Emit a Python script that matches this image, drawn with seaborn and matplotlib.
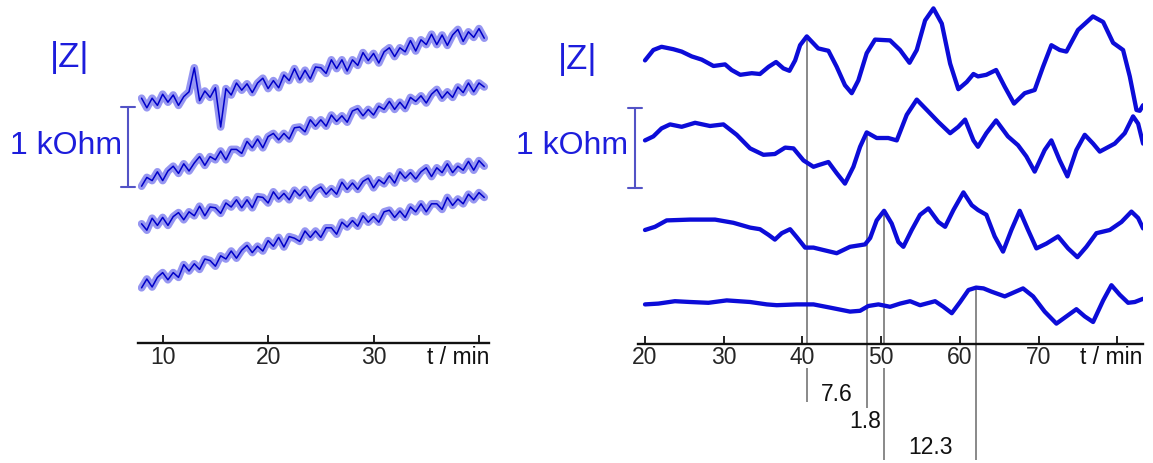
import numpy as np
import matplotlib
matplotlib.use('Agg')
import matplotlib.pyplot as plt
import seaborn as sns

sns.set_style('white')
plt.rcParams['font.family'] = ['Liberation Sans', 'DejaVu Sans']

# ---- left panel: raw |Z| traces (kOhm, stacked), sampled every 0.5 min ----
t_raw = np.arange(8.0, 40.51, 0.5)
raw_1 = [3.06, 2.94, 3.06, 2.97, 3.11, 3.01, 3.10, 2.97, 3.08, 3.14, 3.44,
         3.03, 3.15, 3.07, 3.19, 2.70, 3.18, 3.10, 3.25, 3.16, 3.24, 3.13,
         3.25, 3.31, 3.18, 3.28, 3.19, 3.35, 3.28, 3.43, 3.29, 3.41, 3.30,
         3.45, 3.44, 3.37, 3.54, 3.43, 3.54, 3.40, 3.54, 3.47, 3.63, 3.53,
         3.62, 3.50, 3.64, 3.69, 3.58, 3.69, 3.64, 3.78, 3.65, 3.79, 3.73,
         3.86, 3.73, 3.85, 3.72, 3.85, 3.92, 3.77, 3.89, 3.82, 3.93, 3.81]
raw_2 = [1.96, 2.07, 2.03, 2.14, 2.03, 2.15, 2.21, 2.12, 2.24, 2.15, 2.25,
         2.33, 2.22, 2.33, 2.29, 2.40, 2.29, 2.42, 2.42, 2.37, 2.52, 2.44,
         2.55, 2.44, 2.58, 2.62, 2.54, 2.62, 2.55, 2.69, 2.70, 2.64, 2.79,
         2.71, 2.79, 2.71, 2.85, 2.77, 2.84, 2.76, 2.90, 2.93, 2.84, 2.92,
         2.85, 2.96, 2.92, 3.02, 2.92, 3.01, 2.93, 3.07, 3.02, 3.09, 3.00,
         3.11, 3.17, 3.06, 3.14, 3.07, 3.20, 3.13, 3.25, 3.14, 3.25, 3.20]
raw_3 = [1.49, 1.41, 1.56, 1.47, 1.57, 1.47, 1.58, 1.63, 1.54, 1.64, 1.59,
         1.71, 1.59, 1.70, 1.69, 1.62, 1.75, 1.70, 1.79, 1.69, 1.79, 1.69,
         1.83, 1.82, 1.75, 1.89, 1.80, 1.87, 1.79, 1.91, 1.84, 1.92, 1.81,
         1.91, 1.95, 1.86, 1.93, 1.86, 2.01, 1.92, 2.00, 1.92, 2.02, 2.06,
         1.94, 2.04, 1.99, 2.09, 2.00, 2.14, 2.06, 2.13, 2.05, 2.14, 2.19,
         2.08, 2.19, 2.13, 2.24, 2.13, 2.21, 2.16, 2.27, 2.16, 2.28, 2.21]
raw_4 = [0.69, 0.80, 0.70, 0.82, 0.88, 0.79, 0.88, 0.82, 0.98, 0.90, 0.99,
         0.92, 1.05, 1.03, 0.96, 1.09, 1.05, 1.15, 1.06, 1.16, 1.22, 1.13,
         1.21, 1.15, 1.28, 1.21, 1.32, 1.20, 1.33, 1.31, 1.27, 1.40, 1.32,
         1.40, 1.32, 1.44, 1.44, 1.36, 1.51, 1.45, 1.53, 1.46, 1.59, 1.51,
         1.58, 1.51, 1.64, 1.66, 1.57, 1.65, 1.57, 1.70, 1.64, 1.74, 1.64,
         1.74, 1.74, 1.67, 1.82, 1.72, 1.80, 1.74, 1.86, 1.79, 1.88, 1.82]
raw_traces = [raw_1, raw_2, raw_3, raw_4]

# ---- right panel: smoothed |Z| traces (kOhm, stacked) ----
t_a = [20.0, 21.06, 22.1, 23.6, 24.66, 25.93, 27.2, 28.7, 30.17, 31.0, 32.1,
       33.56, 34.6, 35.7, 36.65, 37.58, 38.35, 39.07, 39.7, 40.55, 42.0, 43.3,
       44.35, 45.4, 46.26, 47.1, 48.16, 49.22, 51.13, 52.4, 53.6, 54.52, 55.58,
       56.64, 57.7, 58.76, 59.8, 60.87, 61.72, 62.3, 63.36, 64.6, 65.7, 66.88,
       68.23, 69.5, 70.56, 71.62, 72.68, 73.53, 75.0, 76.9, 78.2, 79.46, 80.73,
       81.58, 82.43, 82.85, 83.27]
z_a = [3.62, 3.75, 3.79, 3.76, 3.73, 3.67, 3.63, 3.55, 3.57, 3.50, 3.44,
       3.46, 3.45, 3.54, 3.60, 3.52, 3.49, 3.62, 3.81, 3.92, 3.77, 3.74,
       3.54, 3.31, 3.21, 3.37, 3.71, 3.88, 3.87, 3.75, 3.59, 3.75, 4.12,
       4.27, 4.08, 3.58, 3.26, 3.35, 3.45, 3.42, 3.44, 3.50, 3.29, 3.08,
       3.21, 3.25, 3.54, 3.81, 3.75, 3.73, 4.00, 4.17, 4.10, 3.84, 3.75,
       3.42, 3.00, 2.99, 3.06]
t_b = [20.0, 21.06, 22.1, 23.18, 24.66, 26.36, 28.26, 29.96, 31.65, 33.35,
       35.04, 36.5, 37.8, 38.86, 40.13, 41.4, 42.0, 43.3, 44.35, 45.4, 46.47,
       47.32, 48.16, 49.43, 50.9, 51.98, 53.25, 54.52, 56.0, 57.27, 58.76,
       59.8, 60.66, 61.72, 62.3, 63.36, 64.6, 66.1, 67.38, 68.44, 69.5, 70.77,
       71.62, 72.68, 73.66, 74.8, 75.86, 76.92, 77.77, 79.67, 80.94, 82.0,
       82.64, 83.27]
z_b = [2.62, 2.67, 2.77, 2.82, 2.79, 2.84, 2.80, 2.82, 2.69, 2.52,
       2.44, 2.45, 2.53, 2.52, 2.37, 2.29, 2.31, 2.35, 2.21, 2.08, 2.29,
       2.54, 2.72, 2.65, 2.65, 2.62, 2.94, 3.13, 2.98, 2.85, 2.71,
       2.79, 2.88, 2.62, 2.54, 2.71, 2.87, 2.67, 2.56, 2.42, 2.23, 2.50,
       2.62, 2.37, 2.17, 2.50, 2.69, 2.58, 2.48, 2.58, 2.71, 2.92,
       2.83, 2.58]
t_c = [20.0, 21.27, 22.75, 25.72, 28.9, 31.23, 33.35, 34.6, 35.68, 36.5,
       37.37, 38.43, 39.28, 40.34, 41.4, 42.65, 44.35, 46.04, 47.95, 48.6,
       49.43, 50.37, 51.34, 52.19, 52.82, 53.88, 54.94, 56.0, 57.27, 58.12,
       59.18, 60.45, 61.51, 62.3, 63.36, 64.42, 65.48, 66.54, 67.6, 68.66,
       69.72, 70.99, 72.47, 73.74, 74.93, 76.07, 77.34, 79.04, 80.52, 81.79,
       82.64, 83.27]
z_c = [1.50, 1.54, 1.62, 1.63, 1.63, 1.59, 1.53, 1.51, 1.44, 1.38,
       1.46, 1.51, 1.41, 1.28, 1.28, 1.25, 1.21, 1.29, 1.32, 1.40,
       1.62, 1.74, 1.58, 1.35, 1.29, 1.50, 1.69, 1.77, 1.60, 1.54,
       1.75, 1.97, 1.81, 1.75, 1.69, 1.42, 1.23, 1.50, 1.74, 1.50,
       1.27, 1.33, 1.42, 1.27, 1.16, 1.29, 1.46, 1.50, 1.60, 1.73,
       1.65, 1.52]
t_d = [20.0, 21.7, 23.8, 25.72, 28.05, 30.38, 33.35, 35.47, 36.74, 39.28,
       41.4, 43.5, 46.04, 47.32, 48.37, 49.65, 51.13, 52.4, 53.67, 54.94,
       56.85, 57.91, 58.97, 60.03, 61.09, 62.06, 63.0, 64.0, 65.7, 68.02,
       69.3, 70.77, 72.26, 73.53, 74.8, 75.86, 76.92, 78.2, 79.25, 80.31,
       81.37, 82.22, 83.27]
z_d = [0.57, 0.58, 0.61, 0.60, 0.59, 0.62, 0.60, 0.57, 0.56, 0.57,
       0.57, 0.53, 0.48, 0.49, 0.55, 0.57, 0.54, 0.58, 0.61, 0.56,
       0.61, 0.54, 0.46, 0.60, 0.75, 0.78, 0.77, 0.73, 0.67, 0.77,
       0.67, 0.48, 0.33, 0.42, 0.51, 0.42, 0.35, 0.62, 0.81, 0.69,
       0.59, 0.60, 0.64]
smooth_traces = [(t_a, z_a), (t_b, z_b), (t_c, z_c), (t_d, z_d)]

# onset markers (min), the level where each starts, and the delays
marker_t = [40.55, 48.16, 50.37, 62.06]
marker_level = [3.92, 2.72, 1.74, 0.78]
delay_labels = ['7.6', '1.8', '12.3']

BLUE = '#0c0cd8'
TXT = '#1d1ddc'
BAR = '#5353c6'
W, H = 1153, 463

fig = plt.figure(figsize=(W / 100, H / 100), dpi=100)


def px_axes(x0, x1):
    return fig.add_axes([x0 / W, 0, (x1 - x0) / W, 1])


def style_axis(ax, spine_py, ticks, labels, pad):
    for s in ['left', 'right', 'top']:
        ax.spines[s].set_visible(False)
    ax.spines['bottom'].set_position(('axes', (H - spine_py) / H))
    ax.spines['bottom'].set_linewidth(1.7)
    ax.spines['bottom'].set_color('#111111')
    ax.set_xticks(ticks)
    ax.set_xticklabels(labels)
    ax.set_yticks([])
    ax.tick_params(axis='x', direction='in', length=5.5, width=1.3,
                   color='#111111', labelsize=16.5, pad=pad, bottom=True)
    ax.set_xlabel('')
    ax.set_ylabel('')
    ax.patch.set_alpha(0)


# ---- left panel ----
axl = px_axes(138, 489)
for vals in raw_traces:
    sns.lineplot(x=t_raw, y=vals, ax=axl, color='#2f2fe4', linewidth=5.5,
                 alpha=0.5, sort=False)
    sns.lineplot(x=t_raw, y=vals, ax=axl, color='#0000c8', linewidth=1.1,
                 sort=False)
axl.set_xlim(7.66, 40.95)
axl.set_ylim(-1.5, 4.2875)
style_axis(axl, 343, [10, 20, 30, 40], ['10', '20', '30', ''], 2.5)

# 1 kOhm scale bar
bx, d = 6.71, 0.62
axl.plot([bx, bx], [1.95, 2.95], color=BAR, lw=1.5, clip_on=False)
for yb in (1.95, 2.95):
    axl.plot([bx - d, bx + d], [yb, yb], color=BAR, lw=1.5, clip_on=False)

# ---- right panel ----
axr = px_axes(638, 1143)
for tt, zz in smooth_traces:
    sns.lineplot(x=tt, y=zz, ax=axr, color=BLUE, linewidth=3.1, sort=False,
                 solid_joinstyle='round', solid_capstyle='round')
axr.set_xlim(19.11, 83.26)
axr.set_ylim(-1.4125, 4.375)
style_axis(axr, 344, [20, 30, 40, 50, 60, 70, 80],
           ['20', '30', '40', '50', '60', '70', ''], 1.5)

# onset lines (broken where they cross the tick labels)
GRAY = '#808080'
bottoms = [-0.65, -0.73, -1.38, -1.38]
gapped = [True, False, True, False]
for t0, top, bot, gap in zip(marker_t, marker_level, bottoms, gapped):
    if gap:
        axr.vlines(t0, 0.06, top, color=GRAY, lw=1.3, zorder=1)
        axr.vlines(t0, bot, -0.22, color=GRAY, lw=1.3, zorder=1)
    else:
        axr.vlines(t0, bot, top, color=GRAY, lw=1.3, zorder=1)

axr.text((marker_t[0] + marker_t[1]) / 2, -0.56, delay_labels[0],
         ha='center', va='center', fontsize=16.5, color='#111111')
axr.text(marker_t[2] - 0.4, -0.9, delay_labels[1],
         ha='right', va='center', fontsize=16.5, color='#111111')
axr.text((marker_t[2] + marker_t[3]) / 2, -1.22, delay_labels[2],
         ha='center', va='center', fontsize=16.5, color='#111111')

bx, d = 18.73, 0.89
axr.plot([bx, bx], [2.03, 3.03], color=BAR, lw=1.5, clip_on=False)
for yb in (2.03, 3.03):
    axr.plot([bx - d, bx + d], [yb, yb], color=BAR, lw=1.5, clip_on=False)


# ---- panel labels ----
def ftext(px, py, s, **kw):
    fig.text(px / W, 1 - py / H, s, **kw)


ftext(69.5, 57.5, '|Z|', ha='center', va='center', fontsize=25, color=TXT)
ftext(577.5, 59.5, '|Z|', ha='center', va='center', fontsize=25, color=TXT)
ftext(66, 146, '1 kOhm', ha='center', va='center', fontsize=23, color=TXT)
ftext(572.5, 146, '1 kOhm', ha='center', va='center', fontsize=23, color=TXT)
ftext(489, 357, 't / min', ha='right', va='center', fontsize=16.5, color='#111111')
ftext(1142, 358, 't / min', ha='right', va='center', fontsize=16.5, color='#111111')

plt.savefig('out.png', dpi=100)
plt.close()
